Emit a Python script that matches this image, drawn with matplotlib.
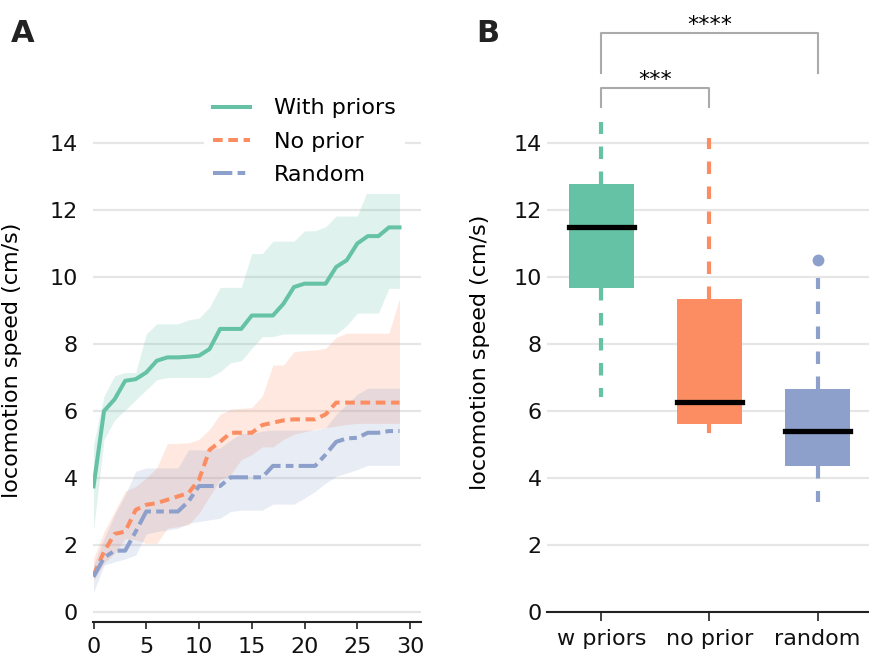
import matplotlib
matplotlib.use("Agg")
import matplotlib.pyplot as plt

# ---- panel A: speed over training steps (mean line + band) ----
steps = list(range(30))

with_mean = [3.75, 6.0, 6.35, 6.9, 6.95, 7.15, 7.5, 7.6, 7.6, 7.62, 7.65, 7.85, 8.45, 8.45, 8.45,
             8.85, 8.85, 8.85, 9.2, 9.7, 9.8, 9.8, 9.8, 10.3, 10.5, 11.0, 11.22, 11.22, 11.48, 11.48]
with_hi = [5.0, 6.45, 7.05, 7.15, 7.15, 8.3, 8.6, 8.6, 8.6, 8.72, 8.77, 9.1, 9.69, 9.69, 9.69,
           10.7, 10.7, 11.07, 11.07, 11.07, 11.38, 11.38, 11.5, 11.82, 11.82, 11.82, 12.6, 12.6, 12.6, 12.6]
with_lo = [2.45, 5.15, 5.73, 6.03, 6.33, 6.63, 6.93, 7.0, 7.0, 7.0, 7.0, 7.0, 7.17, 7.44, 7.5,
           7.87, 8.22, 8.22, 8.3, 8.3, 8.3, 8.3, 8.3, 8.3, 8.55, 8.92, 8.92, 8.92, 9.66, 9.66]

noprior_mean = [1.1, 1.8, 2.33, 2.4, 3.05, 3.2, 3.25, 3.35, 3.45, 3.55, 3.95, 4.84, 5.08, 5.35, 5.35,
                5.35, 5.58, 5.65, 5.72, 5.75, 5.75, 5.75, 5.9, 6.25, 6.25, 6.25, 6.25, 6.25, 6.25, 6.25]
noprior_hi = [1.6, 2.4, 3.0, 3.6, 3.75, 4.0, 4.3, 5.03, 5.03, 5.05, 5.15, 5.45, 5.9, 6.05, 6.08,
              6.1, 6.45, 7.37, 7.37, 7.77, 7.8, 7.82, 7.87, 8.2, 8.32, 8.32, 8.32, 8.32, 8.32, 9.35]
noprior_lo = [0.95, 1.45, 1.75, 2.2, 2.15, 2.05, 2.05, 2.5, 2.55, 2.6, 2.95, 3.45, 3.95, 4.1, 4.55,
              4.7, 4.93, 4.93, 5.15, 5.3, 5.38, 5.45, 5.5, 5.55, 5.6, 5.63, 5.63, 5.63, 5.63, 5.63]

random_mean = [1.05, 1.62, 1.83, 1.83, 2.4, 3.0, 3.0, 3.0, 3.0, 3.3, 3.76, 3.76, 3.76, 4.02, 4.02,
               4.02, 4.02, 4.36, 4.36, 4.36, 4.36, 4.36, 4.7, 5.08, 5.18, 5.2, 5.35, 5.35, 5.4, 5.4]
random_hi = [1.4, 2.2, 2.9, 3.5, 4.2, 4.3, 4.3, 4.3, 4.3, 4.84, 4.84, 4.84, 4.9, 5.13, 5.33,
             5.33, 5.4, 5.43, 5.43, 5.43, 5.43, 5.43, 5.5, 5.9, 6.2, 6.5, 6.68, 6.68, 6.68, 6.68]
random_lo = [0.58, 1.4, 1.5, 1.58, 1.7, 2.33, 2.4, 2.45, 2.5, 2.65, 2.7, 2.75, 2.8, 3.0, 3.04,
             3.04, 3.04, 3.22, 3.22, 3.22, 3.4, 3.6, 3.85, 4.05, 4.15, 4.25, 4.38, 4.38, 4.38, 4.38]

legend_names = ["With priors", "No prior", "Random"]

# ---- panel B: box summary ----
box_labels = ["w priors", "no prior", "random"]
box_q1 = [9.68, 5.6, 4.37]
box_med = [11.5, 6.26, 5.4]
box_q3 = [12.78, 9.34, 6.66]
box_whislo = [6.43, 5.34, 3.27]
box_whishi = [14.62, 14.16, 9.96]
box_fliers = [[], [], [10.51]]

sig_pairs = [(0, 1), (0, 2)]
sig_text = ["***", "****"]
sig_height = [15.64, 17.28]
sig_leg = [15.07, 16.1]

colors = ["#66c2a5", "#fc8d62", "#8da0cb"]
grid_col = "#e6e6e6"
dark = "#222222"

plt.rcParams["font.family"] = "DejaVu Sans"
plt.rcParams["font.size"] = 16

fig = plt.figure(figsize=(8.69, 6.54), dpi=100)
ax1 = fig.add_axes([0.107, 0.0494, 0.377, 0.7832])
ax2 = fig.add_axes([0.630, 0.0642, 0.3729, 0.7683])

# panel A
series = [(with_mean, with_lo, with_hi), (noprior_mean, noprior_lo, noprior_hi),
          (random_mean, random_lo, random_hi)]
styles = ["-", (0, (2.4, 1.4)), (0, (4.8, 1.3, 1.9, 1.3))]
for (m, lo, hi), c, ls, name in zip(series, colors, styles, legend_names):
    ax1.fill_between(steps, lo, hi, color=c, alpha=0.2, linewidth=0, zorder=2)
    ax1.plot(steps, m, color=c, linestyle=ls, linewidth=2.9, label=name, zorder=3)

ax1.set_xlim(-0.05, 31)
ax1.set_ylim(-0.29, 15)
ax1.set_xticks(range(0, 31, 5))
ax1.set_yticks(range(0, 15, 2))
ax1.set_ylabel("locomotion speed (cm/s)")
ax1.yaxis.set_label_coords(-0.217, 0.511)
ax1.tick_params(axis="y", length=0, pad=11)
ax1.tick_params(axis="x", length=5, width=1.2, pad=6, color=dark)
leg = ax1.legend(loc="upper left", bbox_to_anchor=(0.339, 1.039), borderaxespad=0,
                 frameon=True, facecolor="white", edgecolor="none", framealpha=1,
                 handlelength=1.65, handletextpad=1.1, labelspacing=0.6, fontsize=16)

# panel B
stats = []
for i, lab in enumerate(box_labels):
    stats.append({"label": lab, "q1": box_q1[i], "med": box_med[i], "q3": box_q3[i],
                  "whislo": box_whislo[i], "whishi": box_whishi[i], "fliers": box_fliers[i]})
bp = ax2.bxp(stats, positions=range(len(stats)), widths=0.61, patch_artist=True,
             showcaps=False,
             medianprops=dict(color="black", linewidth=3.8, solid_capstyle="projecting"),
             boxprops=dict(linewidth=0),
             whiskerprops=dict(linewidth=3, linestyle=(0, (3, 3))),
             flierprops=dict(marker="o", markersize=8.5, markeredgewidth=0))
for i, c in enumerate(colors):
    bp["boxes"][i].set_facecolor(c)
    bp["boxes"][i].set_zorder(2)
    bp["whiskers"][2 * i].set_color(c)
    bp["whiskers"][2 * i + 1].set_color(c)
    bp["fliers"][i].set_markerfacecolor(c)
    bp["medians"][i].set_zorder(3)

ax2.set_xlim(-0.5, 2.5)
ax2.set_ylim(0, 15)
ax2.set_yticks(range(0, 15, 2))
ax2.set_xticks(range(len(box_labels)))
ax2.set_xticklabels(box_labels)
ax2.set_ylabel("locomotion speed (cm/s)")
ax2.yaxis.set_label_coords(-0.177, 0.517)
ax2.tick_params(axis="y", length=0, pad=4)
ax2.tick_params(axis="x", length=6.5, width=1.2, pad=6, color=dark)

for (a, b), txt, h, leg_y in zip(sig_pairs, sig_text, sig_height, sig_leg):
    ax2.plot([a, a, b, b], [leg_y, h, h, leg_y], color="#aaaaaa", linewidth=1.5, clip_on=False)
    ax2.text((a + b) / 2, h + 0.05, txt, ha="center", va="baseline", fontsize=16)

for ax in (ax1, ax2):
    ax.grid(axis="y", color=grid_col, linewidth=1.6, zorder=0)
    ax.set_axisbelow(True)
    for s in ("left", "right", "top"):
        ax.spines[s].set_visible(False)
    ax.spines["bottom"].set_color(dark)
    ax.spines["bottom"].set_linewidth(1.5)
    ax.tick_params(colors="#222222", labelcolor="#111111")

fig.text(11 / 869, 1 - 42 / 654, "A", fontsize=22, fontweight="bold", va="baseline", color="#222222")
fig.text(476 / 869, 1 - 42 / 654, "B", fontsize=22, fontweight="bold", va="baseline", color="#222222")

fig.savefig("out.png", dpi=100)
